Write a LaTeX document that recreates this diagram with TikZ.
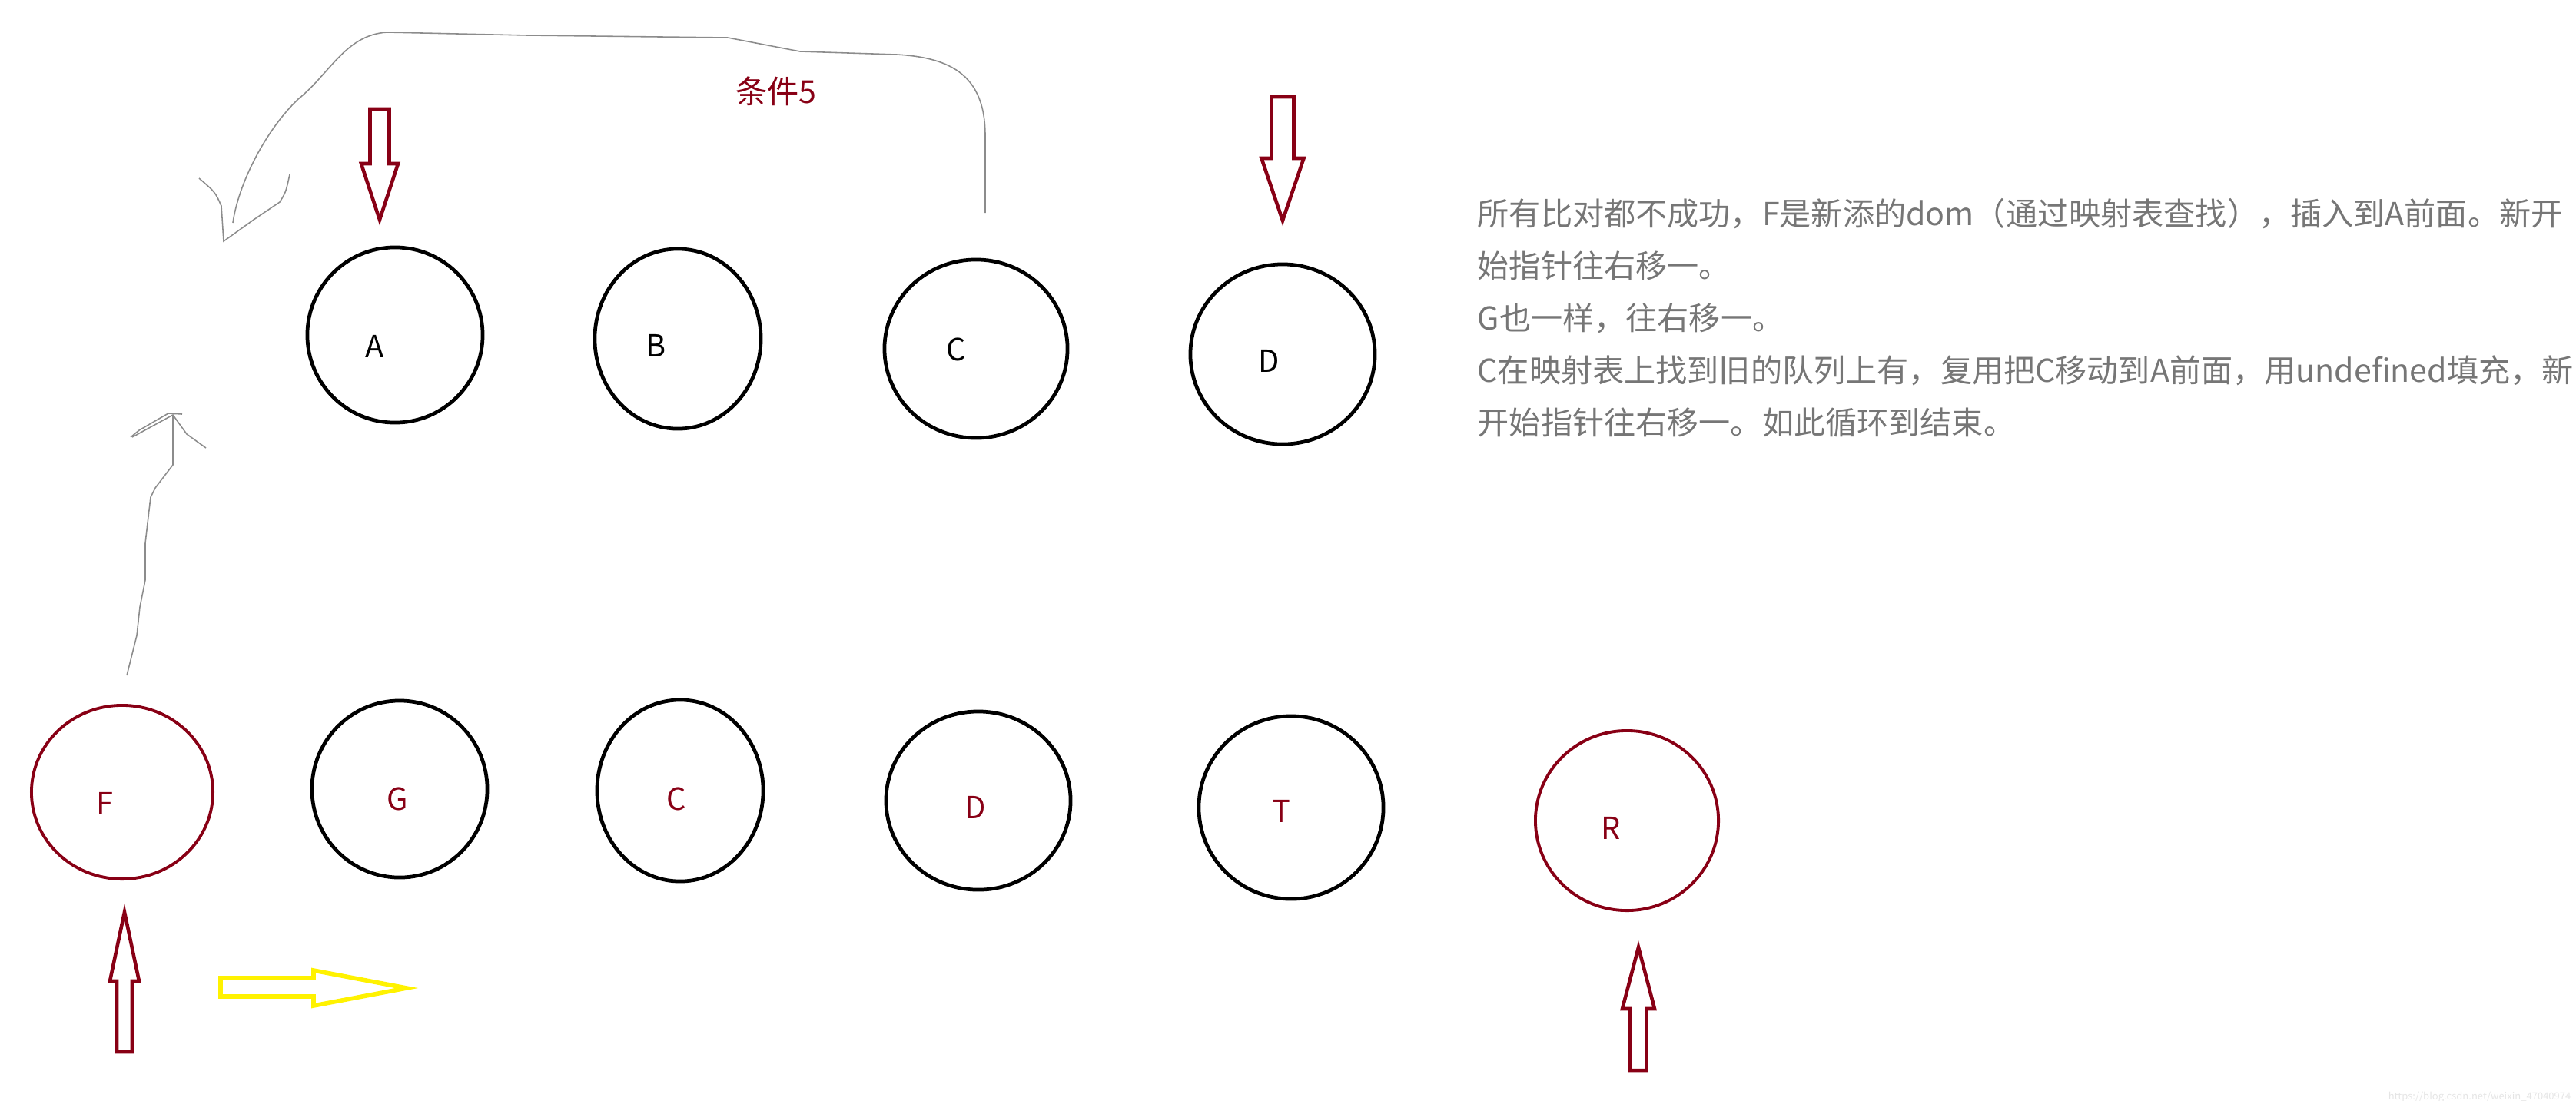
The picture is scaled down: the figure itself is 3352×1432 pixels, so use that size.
\documentclass[tikz,border=0pt]{standalone}
\usepackage{fontspec}
\newfontfamily\cjkfont{Noto Sans CJK SC}
\usetikzlibrary{positioning,shapes.geometric}

\definecolor{darkred}{HTML}{880015}
\definecolor{paintyellow}{HTML}{FFF200}
\definecolor{notegray}{HTML}{767676}
\definecolor{sketchgray}{HTML}{8C8C8C}

\tikzset{
  ring/.style={ellipse, draw=black, line width=1.35pt, inner sep=0pt},
  newring/.style={ellipse, draw=darkred, line width=1.1pt, inner sep=0pt},
  lbl/.style={font=\cjkfont\fontsize{11.3}{13}\selectfont, inner sep=0pt},
  ptr/.style={draw=darkred, line width=1.3pt},
  movearrow/.style={draw=paintyellow, line width=1.6pt},
  sketch/.style={draw=sketchgray, line width=0.45pt},
  note/.style={font=\cjkfont\fontsize{11.7}{14}\selectfont, text=notegray, inner sep=0pt, anchor=base west},
}

\begin{document}
\begin{tikzpicture}[x=0.01cm, y=-0.01cm]
  \useasboundingbox (0,0) rectangle (3352,1432);

  % Old row
  \foreach \n/\x/\y/\w/\h/\t/\lx/\ly in {oa/514/436/2.28/2.28/A/488/451, ob/882/441/2.16/2.34/B/854/450,
      oc/1270/454/2.38/2.32/C/1244/455, od/1669/461/2.40/2.34/D/1651/470} {
    \node[ring, minimum width=\w cm, minimum height=\h cm] (\n) at (\x,\y) {};
    \node[lbl] (\n-l) at (\lx,\ly) {\t};
  }

  % New row
  \foreach \n/\x/\y/\w/\h/\t/\lx/\ly/\s in {nf/159/1031/2.36/2.26/F/136/1046/newring, ng/520/1027/2.28/2.30/G/517/1040/ring,
      nc/885/1029/2.16/2.36/C/880/1040/ring, nd/1273/1042/2.40/2.32/D/1269/1051/ring,
      nt/1680/1051/2.40/2.38/T/1667/1056/ring, nr/2117/1068/2.38/2.34/R/2096/1078/newring} {
    \node[\s, minimum width=\w cm, minimum height=\h cm] (\n) at (\x,\y) {};
    \node[lbl, text=darkred] (\n-l) at (\lx,\ly) {\t};
  }

  % Pointers
  \foreach \x/\ty/\by/\hw/\sw/\ey in {494/286/213/24/12.5/142, 1669/287/206/27.5/14.5/126,
      162/1187/1277/19/10/1369, 2132/1233/1313/21/10.5/1393} {
    \draw[ptr] (\x,\ty) -- ({\x+\hw},\by) -- ({\x+\sw},\by) -- ({\x+\sw},\ey)
      -- ({\x-\sw},\ey) -- ({\x-\sw},\by) -- ({\x-\hw},\by) -- cycle;
  }
  \draw[movearrow] (529,1286) -- (408,1263) -- (408,1273) -- (287,1273)
    -- (287,1297) -- (408,1297) -- (408,1309) -- cycle;

  % Sketched moves
  \coordinate (c5from) at (1282,277);
  \coordinate (c5to) at (303,290);
  \draw[sketch] (c5from) -- (1282,177) .. controls (1282,100) and (1240,75) .. (1167,71)
    -- (1041,67) -- (947,49) -- (687,46) -- (504,42)
    .. controls (450,45) and (430,95) .. (388,129) .. controls (345,170) and (310,240) .. (c5to);
  \draw[sketch] (259,232) .. controls (280,250) .. (288,268) -- (291,314) -- (330,286)
    -- (364,263) .. controls (372,250) .. (377,227);
  \node[lbl, font=\cjkfont\fontsize{11.7}{14}\selectfont, text=darkred] (cond5) at (1010,119) {条件5};

  \coordinate (ffrom) at (165,879);
  \coordinate (fto) at (225,540);
  \draw[sketch] (ffrom) -- (178,827) -- (182,790) -- (189,755) -- (189,707) -- (196,647)
    -- (202,635) -- (225,605) -- (fto);
  \draw[sketch] (170,569) -- (181,560) -- (219,538) -- (237,539);
  \draw[sketch] (172,569) -- (fto) -- (243,565) -- (268,583);

  % Notes
  \foreach \ln [count=\i] in {{所有比对都不成功，F是新添的dom（通过映射表查找），插入到A前面。新开},
      {始指针往右移一。}, {G也一样，往右移一。},
      {C在映射表上找到旧的队列上有，复用把C移动到A前面，用undefined填充，新},
      {开始指针往右移一。如此循环到结束。}} {
    \node[note] (note\i) at (1922,{293+68*(\i-1)}) {\ln};
  }

  \node[font=\cjkfont\fontsize{3.7}{4}\selectfont, text=black!10, inner sep=0pt, anchor=east] (wm)
    at (3346,1428) {https://blog.csdn.net/weixin\_47040974};
\end{tikzpicture}
\end{document}
